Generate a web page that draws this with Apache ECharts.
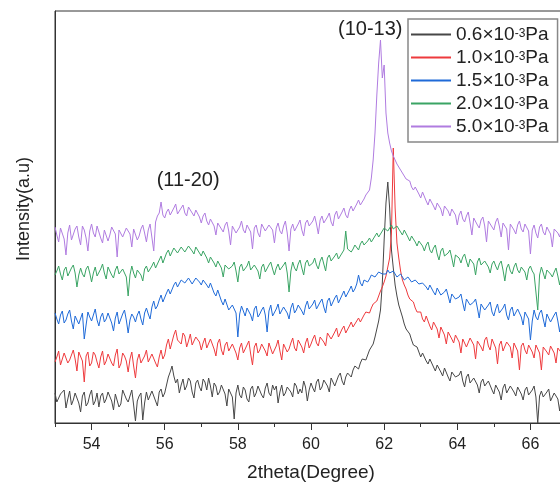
<!DOCTYPE html>
<html>
<head>
<meta charset="utf-8">
<script src="https://cdn.jsdelivr.net/npm/echarts@6/dist/echarts.min.js"></script>
<style>
  html, body { margin: 0; padding: 0; background: #fff; }
  #chart { width: 560px; height: 482px; }
</style>
</head>
<body>
<div id="chart"></div>
<script>
// 2theta grid: 53.00 .. 67.00, step 0.05 (one row per degree)
const X_START = 53;
const X_STEP = 0.05;

const pressures = ["0.6", "1.0", "1.5", "2.0", "5.0"];
const colors = ["#474747", "#ee3a3d", "#1f6ad8", "#3aa464", "#b07ce0"];

// intensities (a.u., each curve already offset as in the plot)
const p06 = [
  30,21,19,29,28,33,15,24,32,18,23,30,29,20,11,27,31,17,20,28,
  33,18,22,30,16,27,30,20,24,31,32,22,13,29,28,16,19,33,31,24,
  21,27,33,18,2,22,27,30,3,20,31,23,24,32,33,22,17,31,34,26,
  30,38,46,51,57,47,40,44,30,38,44,33,37,45,42,31,25,40,43,36,
  32,44,41,33,45,37,26,40,37,28,31,38,40,29,17,34,36,26,4,30,
  38,28,25,36,33,24,21,34,37,26,30,37,36,28,25,35,40,30,27,38,
  33,37,20,31,38,27,30,36,38,31,26,40,37,29,34,30,42,36,22,33,
  40,35,31,41,44,33,36,43,44,37,31,45,44,37,38,47,50,42,38,46,
  50,51,46,53,57,55,54,60,64,63,63,68,73,76,79,86,94,102,113,140,
  183,220,241,215,173,155,138,127,118,112,106,99,94,92,89,83,78,79,76,71,
  66,70,69,62,59,64,63,56,52,58,59,51,47,55,56,46,42,51,52,46,
  44,48,52,42,36,46,49,40,38,45,47,38,30,41,44,37,36,42,43,33,
  29,38,39,31,23,35,39,30,31,37,39,31,27,36,34,29,23,33,36,28,
  29,33,37,26,0,27,32,26,24,31,34,22,26,30,32,24,12,29,31,33,
  21
];
const p10 = [
  61,66,72,58,56,70,69,60,63,68,73,64,52,71,70,62,41,67,71,57,
  60,71,68,61,55,66,72,58,62,69,70,60,57,68,74,55,59,70,67,62,
  51,64,71,57,45,63,69,60,58,67,73,61,62,69,70,60,56,66,73,64,
  68,78,84,74,81,88,93,83,82,79,90,87,76,82,89,78,80,86,88,81,
  73,80,85,75,77,84,83,74,67,80,84,73,68,78,81,72,70,79,77,70,
  63,75,80,70,71,78,82,69,58,76,80,70,73,79,81,72,67,80,79,69,
  71,77,83,72,63,79,80,71,74,80,85,75,72,83,82,76,70,80,85,75,
  79,84,88,80,77,86,88,81,77,90,92,84,85,91,95,86,84,94,97,90,
  89,97,101,96,96,102,105,101,102,108,111,109,110,115,119,119,122,127,132,136,
  141,147,156,165,190,275,215,180,165,152,143,138,134,128,124,123,121,115,111,113,
  111,104,101,107,105,97,93,101,100,94,85,96,95,88,79,91,92,84,80,88,
  90,81,70,84,86,76,78,85,87,78,64,82,83,76,72,83,86,77,73,84,
  82,75,59,78,82,72,73,81,83,76,65,80,79,72,53,77,80,73,69,78,
  80,71,65,78,76,70,53,76,78,71,68,77,79,70,60,75,76,70,68,74,
  77
];
const p15 = [
  110,104,99,108,112,100,103,109,113,102,94,107,109,99,101,110,84,98,111,106,
  102,108,114,103,97,106,110,101,104,110,112,100,92,105,111,99,100,109,113,103,
  90,103,109,106,101,108,112,104,98,110,115,109,104,116,122,114,117,123,128,121,
  122,130,134,129,131,138,141,136,137,143,145,140,139,145,147,139,140,145,146,141,
  138,143,144,138,135,140,139,130,127,133,131,122,118,124,123,113,112,118,117,110,
  86,109,117,112,107,115,116,108,102,114,117,106,109,113,116,108,91,112,118,107,
  107,114,119,109,110,116,117,110,104,115,120,110,113,118,120,112,108,117,122,114,
  113,119,123,114,115,121,124,116,110,122,125,117,118,125,128,120,121,128,132,126,
  128,133,137,131,134,139,148,140,137,143,145,141,144,148,149,146,148,151,152,149,
  151,149,153,150,149,152,150,146,145,149,148,143,142,146,147,141,140,143,144,139,
  137,140,142,136,133,138,139,131,128,135,136,128,126,131,134,127,120,129,131,124,
  122,126,129,120,112,124,126,118,116,121,124,115,105,119,121,113,112,118,121,111,
  107,114,119,110,109,115,119,108,103,113,116,107,108,114,116,106,98,111,113,104,
  83,102,113,106,103,110,113,104,96,109,111,101,103,108,111,102,91,106,109,104,
  100
];
const p20 = [
  148,152,157,149,143,153,156,147,149,155,158,150,136,148,155,149,146,154,157,150,
  141,150,156,147,148,154,159,150,144,156,154,148,145,153,157,149,147,154,156,146,
  127,148,157,150,145,153,155,148,142,154,157,151,150,157,161,155,153,163,167,160,
  162,170,173,167,166,175,177,170,171,176,178,171,170,177,179,172,169,176,176,170,
  167,172,173,165,160,166,167,160,156,162,164,155,146,158,160,154,152,157,161,152,
  141,156,159,152,150,157,162,153,151,158,160,152,144,156,159,151,153,158,161,154,
  148,155,159,153,152,158,161,150,131,152,161,155,152,159,163,155,148,160,163,157,
  156,160,165,158,154,162,166,159,152,165,168,162,161,167,170,164,163,170,173,192,
  174,176,171,174,178,176,173,179,182,178,176,182,185,181,182,187,190,186,188,192,
  195,197,192,195,198,194,193,197,196,191,188,193,192,186,182,187,188,181,177,182,
  184,177,172,178,181,173,170,175,178,169,163,172,175,167,166,170,173,165,156,168,
  170,165,160,166,169,162,156,164,166,159,148,161,165,158,156,162,164,156,150,159,
  162,157,153,159,162,153,142,155,159,152,149,156,160,153,150,156,158,151,143,154,
  157,152,149,150,113,148,156,150,144,153,155,149,146,151,155,147,138,150,152,149,
  145
];
const p50 = [
  196,188,181,195,194,184,168,190,198,183,185,194,197,186,178,197,193,185,172,192,
  199,190,186,197,196,185,180,193,195,182,188,196,198,189,166,193,194,186,184,195,
  197,189,176,194,195,183,187,194,198,190,181,193,199,198,172,201,207,210,221,208,
  205,211,214,208,207,215,219,209,210,215,218,210,207,216,217,210,207,213,214,206,
  200,207,210,202,198,204,206,197,188,200,201,194,191,198,201,192,178,197,199,190,
  188,196,202,193,190,198,200,191,174,195,198,190,186,199,201,192,191,198,199,193,
  180,195,200,192,189,197,202,190,172,194,199,192,191,199,203,193,187,200,203,197,
  196,202,207,199,189,203,207,200,199,206,210,201,197,208,212,204,205,211,215,208,
  205,213,217,212,212,219,223,218,219,224,228,229,233,245,263,290,328,360,383,345,
  358,310,290,280,272,267,263,259,257,253,253,247,244,244,242,236,233,236,235,229,
  225,231,229,222,218,224,226,217,213,220,222,214,207,217,219,212,207,214,215,208,
  198,208,212,204,201,207,211,200,188,205,207,198,195,203,206,197,181,202,204,196,
  193,201,205,197,186,200,202,194,173,199,200,193,189,198,202,194,191,199,200,192,
  169,193,198,190,185,196,199,191,188,196,198,189,176,194,196,190,186,195,198,192,
  181
];

const majorTicks = [54, 56, 58, 60, 62, 64, 66];
const minorTicks = [53, 55, 57, 59, 61, 63, 65, 67];

const peakLabels = ["(10-13)", "(11-20)"];
const peakX = [61.62, 56.64];
const peakY = [394, 243];

const FONT = "Liberation Sans, Arial, sans-serif";

const chart = echarts.init(document.getElementById("chart"), null, { renderer: "canvas" });

const xs = p06.map((_, i) => +(X_START + i * X_STEP).toFixed(2));
const curves = [p06, p10, p15, p20, p50];
const names = pressures.map((p) => p + "×10⁻³Pa");

const series = curves.map((vals, k) => ({
  name: names[k],
  type: "line",
  xAxisIndex: 0,
  symbol: "none",
  showSymbol: false,
  color: colors[k],
  lineStyle: { width: 1, color: colors[k] },
  data: xs.map((x, i) => [x, vals[i]]),
}));

series[4].markPoint = {
  symbol: "circle",
  symbolSize: 0,
  label: {
    show: true,
    position: "inside",
    formatter: "{b}",
    color: "#222",
    fontSize: 20,
    fontFamily: FONT,
  },
  data: peakLabels.map((t, i) => ({ name: t, coord: [peakX[i], peakY[i]] })),
};

chart.setOption({
  animation: false,
  backgroundColor: "#fff",
  grid: {
    left: 55,
    right: -7,
    top: 11,
    bottom: 59,
    containLabel: false,
    outerBoundsMode: "none",
    show: true,
    borderColor: "#333",
    borderWidth: 1,
    backgroundColor: "transparent",
  },
  legend: {
    orient: "vertical",
    left: 408,
    top: 19,
    padding: [6, 9, 6, 3],
    icon: "rect",
    itemWidth: 40,
    itemHeight: 2,
    itemGap: 4,
    selectedMode: false,
    backgroundColor: "#fff",
    borderColor: "#888",
    borderWidth: 1.5,
    borderRadius: 0,
    data: names,
    formatter: (name) => `{n|${name.split("×")[0]}×10}{s|-3}{n|Pa}`,
    textStyle: {
      rich: {
        n: { fontSize: 19, lineHeight: 14, verticalAlign: "middle", color: "#222", fontFamily: FONT },
        s: { fontSize: 12, lineHeight: 4, verticalAlign: "top", color: "#222", fontFamily: FONT },
      },
    },
  },
  xAxis: [
    {
      type: "value",
      min: 53,
      max: 67,
      position: "bottom",
      name: "2theta(Degree)",
      nameLocation: "middle",
      nameGap: 40,
      nameTextStyle: { fontSize: 19, color: "#222", fontFamily: FONT },
      axisLine: { show: true, onZero: false, lineStyle: { color: "#333", width: 1 } },
      axisTick: { show: true, inside: false, length: 7, customValues: majorTicks, lineStyle: { color: "#333" } },
      axisLabel: { show: true, margin: 14, fontSize: 16, color: "#222", fontFamily: FONT, customValues: majorTicks },
      splitLine: { show: false },
    },
    {
      type: "value",
      min: 53,
      max: 67,
      position: "bottom",
      axisLine: { show: false },
      axisTick: { show: true, inside: false, length: 4, customValues: minorTicks, lineStyle: { color: "#333" } },
      axisLabel: { show: false },
      splitLine: { show: false },
    },
  ],
  yAxis: {
    type: "value",
    min: 0,
    max: 412,
    name: "Intensity(a.u)",
    nameLocation: "middle",
    nameGap: 22,
    nameTextStyle: { fontSize: 18, color: "#222", fontFamily: FONT, padding: [0, 0, 0, 16] },
    axisLine: { show: true, lineStyle: { color: "#333", width: 1 } },
    axisTick: { show: false },
    axisLabel: { show: false },
    splitLine: { show: false },
  },
  series,
});
</script>
</body>
</html>
